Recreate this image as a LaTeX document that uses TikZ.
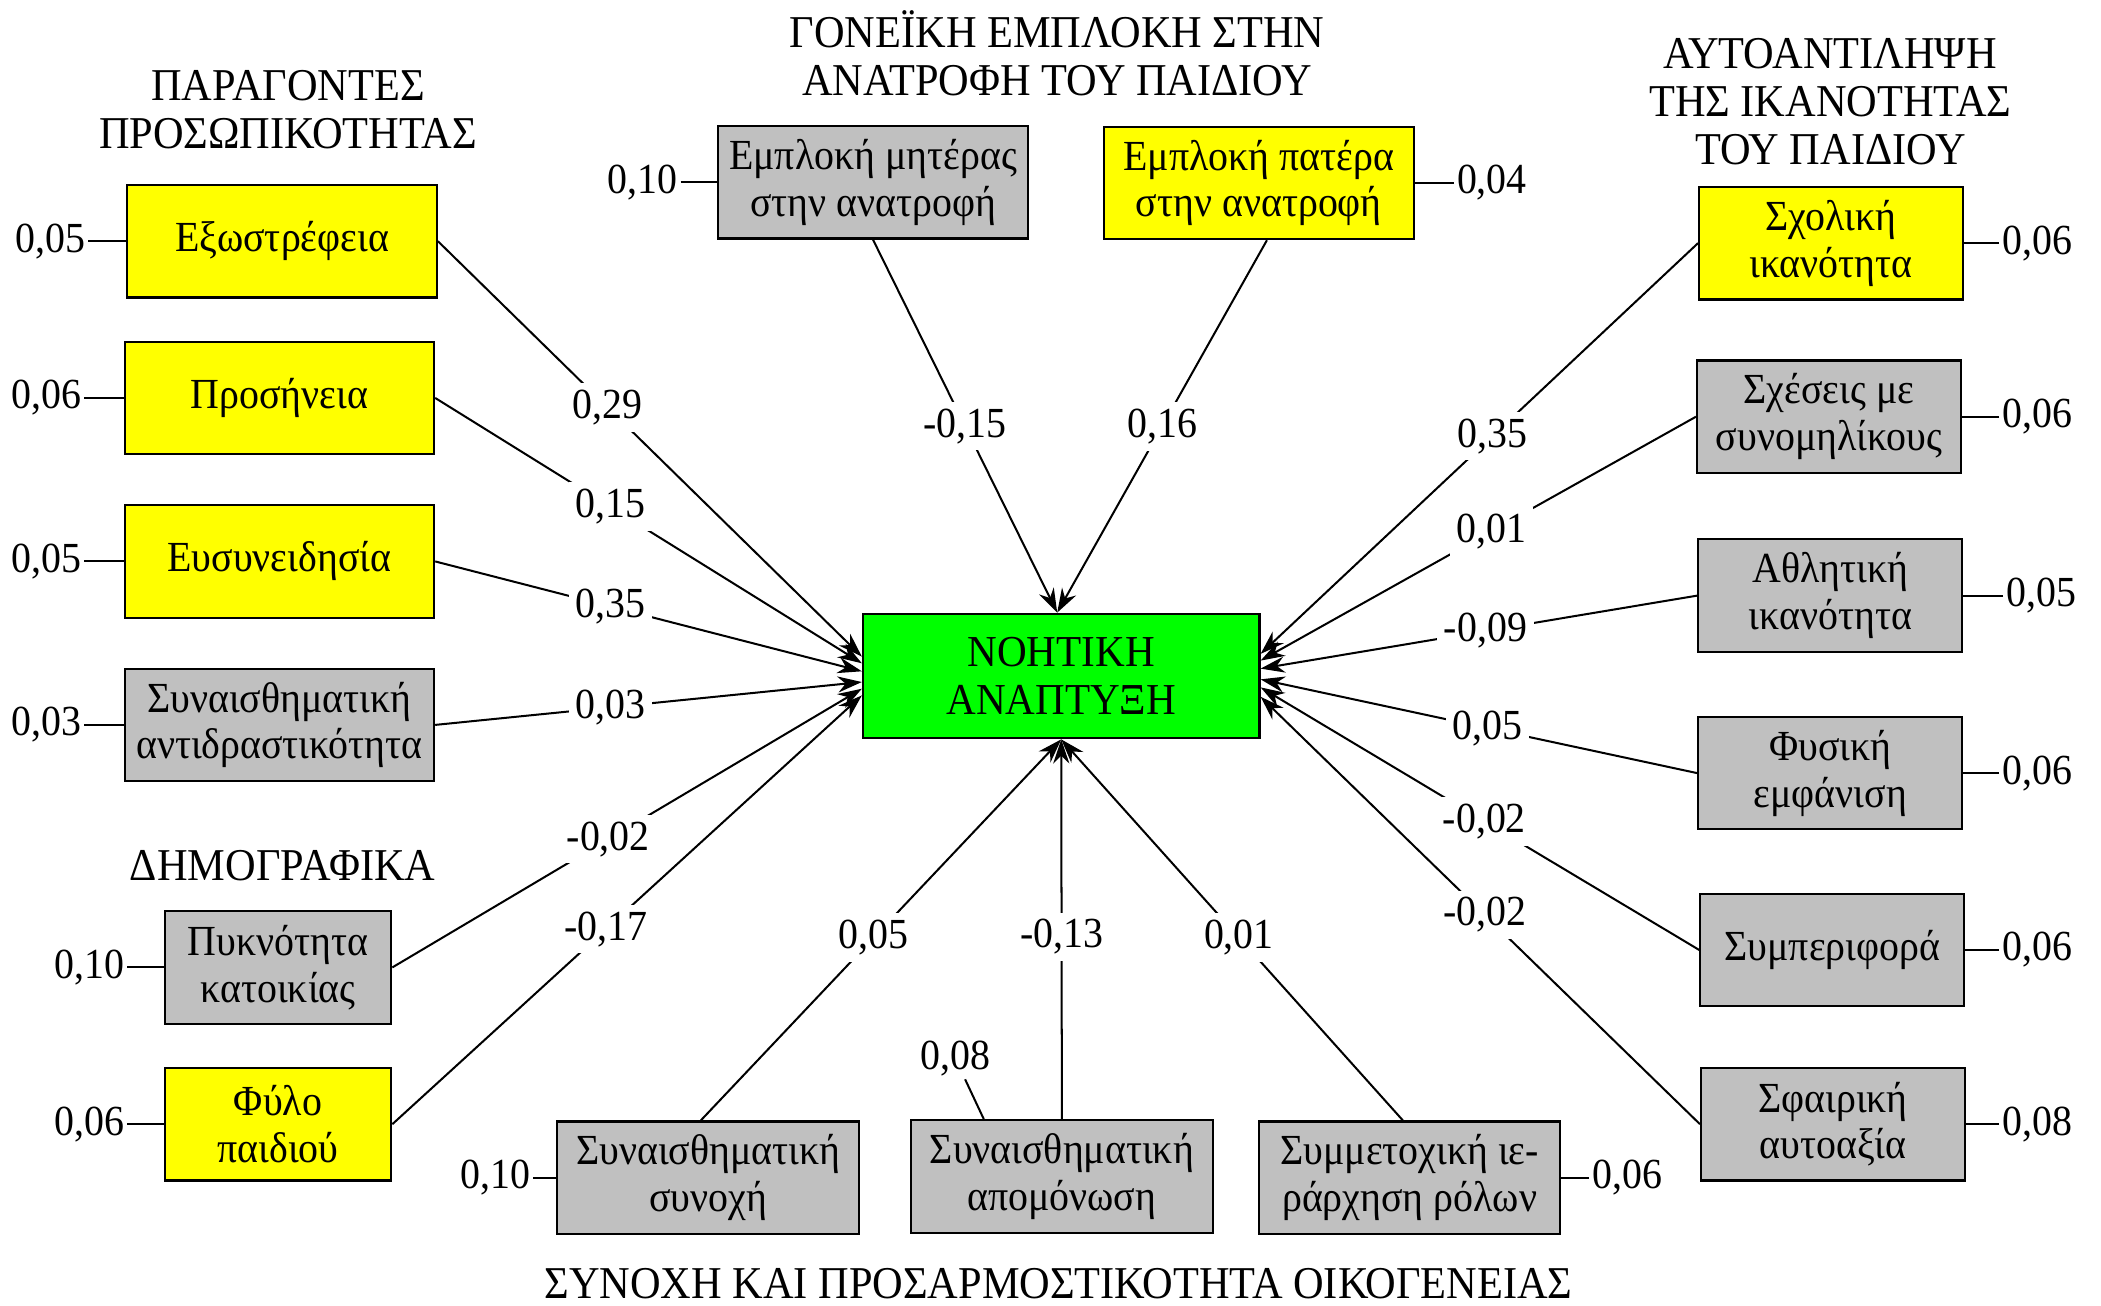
\documentclass[tikz,border=0pt]{standalone}
\usepackage{fontspec}
\setmainfont[FakeStretch=0.93]{Liberation Serif}
\usetikzlibrary{arrows.meta}
\definecolor{boxgray}{HTML}{C0C0C0}
\definecolor{boxyellow}{HTML}{FFFF00}
\definecolor{boxgreen}{HTML}{00FF00}
\begin{document}
\begin{tikzpicture}[x=0.5pt,y=-0.5pt,
  every node/.style={font=\fontsize{16}{17.5}\selectfont},
  box/.style={draw, line width=0.8pt, align=center, inner sep=0pt, minimum height=42pt},
  yb/.style={box, fill=boxyellow},
  gb/.style={box, fill=boxgray},
  lbl/.style={fill=white, inner sep=2.5pt},
  err/.style={inner sep=1pt},
  ttl/.style={align=center, font=\fontsize{17}{18}\selectfont},
  ln/.style={line width=0.75pt},
  link/.style={line width=0.75pt, -{Stealth[length=9pt,width=6pt]}}
]
\useasboundingbox (0,0) rectangle (1568,974);

% titles
\node[ttl] (t1) at (215,82) {ΠΑΡΑΓΟΝΤΕΣ\\ΠΡΟΣΩΠΙΚΟΤΗΤΑΣ};
\node[ttl] (t2) at (789,40) {ΓΟΝΕΪΚΗ ΕΜΠΛΟΚΗ ΣΤΗΝ\\ΑΝΑΤΡΟΦΗ ΤΟΥ ΠΑΙΔΙΟΥ};
\node[ttl] (t3) at (1366,76) {ΑΥΤΟΑΝΤΙΛΗΨΗ\\ΤΗΣ ΙΚΑΝΟΤΗΤΑΣ\\ΤΟΥ ΠΑΙΔΙΟΥ};
\node[ttl] (t4) at (211,646) {ΔΗΜΟΓΡΑΦΙΚΑ};
\node[ttl] (t5) at (790,958) {ΣΥΝΟΧΗ ΚΑΙ ΠΡΟΣΑΡΜΟΣΤΙΚΟΤΗΤΑ ΟΙΚΟΓΕΝΕΙΑΣ};

% centre
\node[box, fill=boxgreen, minimum width=148pt, minimum height=46.5pt, font=\fontsize{16.5}{18}\selectfont] (c) at (792,504.5) {ΝΟΗΤΙΚΗ\\ΑΝΑΠΤΥΞΗ};

% left
\node[yb, minimum width=115.5pt] (e1) at (210.5,180) {Εξωστρέφεια};
\node[yb, minimum width=115.5pt] (e2) at (208.5,297) {Προσήνεια};
\node[yb, minimum width=115.5pt] (e3) at (208.5,419) {Ευσυνειδησία};
\node[gb, minimum width=115.5pt] (e4) at (208.5,541) {Συναισθηματική\\αντιδραστικότητα};
\node[gb, minimum width=84.5pt] (d1) at (207.5,722) {Πυκνότητα\\κατοικίας};
\node[yb, minimum width=84.5pt] (d2) at (207.5,839) {Φύλο\\παιδιού};

% top
\node[gb, minimum width=115.5pt] (p1) at (651.5,136) {Εμπλοκή μητέρας\\στην ανατροφή};
\node[yb, minimum width=115.5pt] (p2) at (939.5,136.5) {Εμπλοκή πατέρα\\στην ανατροφή};

% right
\node[yb, minimum width=98.5pt] (s1) at (1366.5,181.5) {Σχολική\\ικανότητα};
\node[gb, minimum width=98.5pt] (s2) at (1365,311) {Σχέσεις με\\συνομηλίκους};
\node[gb, minimum width=98.5pt] (s3) at (1366,444.5) {Αθλητική\\ικανότητα};
\node[gb, minimum width=98.5pt] (s4) at (1366,577) {Φυσική\\εμφάνιση};
\node[gb, minimum width=98.5pt] (s5) at (1367.5,709) {Συμπεριφορά};
\node[gb, minimum width=98.5pt] (s6) at (1368,839) {Σφαιρική\\αυτοαξία};

% bottom
\node[gb, minimum width=112.5pt] (f1) at (528.5,879) {Συναισθηματική\\συνοχή};
\node[gb, minimum width=112.5pt] (f2) at (792.5,878) {Συναισθηματική\\απομόνωση};
\node[gb, minimum width=112.5pt] (f3) at (1052,879) {Συμμετοχική ιε-\\ράρχηση ρόλων};

% error terms
\node[err, anchor=east] (r1) at (66,180) {0,05};
\node[err, anchor=east] (r2) at (63,297) {0,06};
\node[err, anchor=east] (r3) at (63,419) {0,05};
\node[err, anchor=east] (r4) at (63,541) {0,03};
\node[err, anchor=east] (r5) at (95,722) {0,10};
\node[err, anchor=east] (r6) at (95,839) {0,06};
\node[err, anchor=east] (r7) at (508,136) {0,10};
\node[err, anchor=west] (r8) at (1085,136.5) {0,04};
\node[err, anchor=west] (r9) at (1492,181.5) {0,06};
\node[err, anchor=west] (r10) at (1492,311) {0,06};
\node[err, anchor=west] (r11) at (1495,444.5) {0,05};
\node[err, anchor=west] (r12) at (1492,577) {0,06};
\node[err, anchor=west] (r13) at (1492,709) {0,06};
\node[err, anchor=west] (r14) at (1492,839) {0,08};
\node[err, anchor=east] (r15) at (398,879) {0,10};
\node[err] (r16) at (713,790) {0,08};
\node[err, anchor=west] (r17) at (1186,879) {0,06};

\foreach \a/\b in {r1/e1,r2/e2,r3/e3,r4/e4,r5/d1,r6/d2,r7/p1,r8/p2,r9/s1,r10/s2,r11/s3,r12/s4,r13/s5,r14/s6,r15/f1,r17/f3}
  \draw[ln] (\a) -- (\b);
\draw[ln] (r16) -- ([xshift=27.5pt]f2.north west);

% paths to centre
\draw[link] (e1.east) -- node[lbl, pos=0.40] {0,29} ([yshift=7.25pt]c.west);
\draw[link] (e2.east) -- node[lbl, pos=0.41] {0,15} ([yshift=4.75pt]c.west);
\draw[link] (e3.east) -- node[lbl, pos=0.41] {0,35} ([yshift=1.75pt]c.west);
\draw[link] (e4.east) -- node[lbl, pos=0.41] {0,03} ([yshift=-2.25pt]c.west);
\draw[link] (d1.east) -- node[lbl, pos=0.46] {-0,02} ([yshift=-4.75pt]c.west);
\draw[link] (d2.east) -- node[lbl, pos=0.455] {-0,17} ([yshift=-7.25pt]c.west);

\draw[link] (p1.south) -- node[lbl, pos=0.5] {-0,15} ([xshift=-1.5pt]c.north);
\draw[link] ([xshift=3pt]p2.south) -- node[lbl, pos=0.5] {0,16} ([xshift=-1.5pt]c.north);

\draw[link] (s1.west) -- node[lbl, pos=0.47] {0,35} ([yshift=8.25pt]c.east);
\draw[link] (s2.west) -- node[lbl, pos=0.47] {0,01} ([yshift=5.75pt]c.east);
\draw[link] (s3.west) -- node[lbl, pos=0.485] {-0,09} ([yshift=2.75pt]c.east);
\draw[link] (s4.west) -- node[lbl, pos=0.48] {0,05} ([yshift=-1.25pt]c.east);
\draw[link] (s5.west) -- node[lbl, pos=0.49] {-0,02} ([yshift=-4.25pt]c.east);
\draw[link] (s6.west) -- node[lbl, pos=0.49] {-0,02} ([yshift=-7.75pt]c.east);

\draw[link] ([xshift=-2.75pt]f1.north) -- node[lbl, pos=0.48] {0,05} (c.south);
\draw[link] (f2.north) -- node[lbl, pos=0.48] {-0,13} (c.south);
\draw[link] ([xshift=-2.5pt]f3.north) -- node[lbl, pos=0.48] {0,01} (c.south);
\end{tikzpicture}
\end{document}
